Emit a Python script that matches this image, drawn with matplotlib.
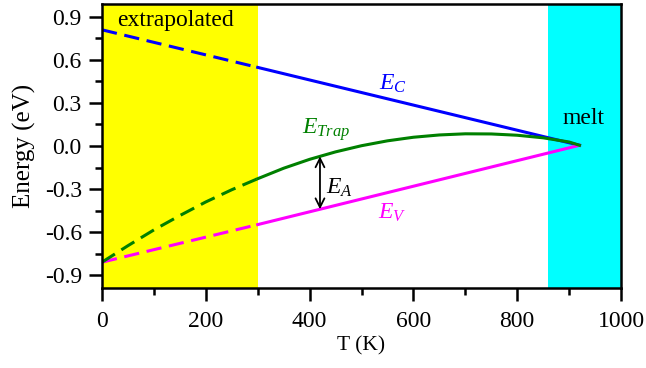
import numpy as np
import matplotlib
matplotlib.use("Agg")
import matplotlib.pyplot as plt
from matplotlib.ticker import MultipleLocator

plt.rcParams['font.family'] = ['Liberation Serif', 'DejaVu Serif']
plt.rcParams['mathtext.fontset'] = 'custom'
plt.rcParams['mathtext.it'] = 'Liberation Serif:italic'
plt.rcParams['mathtext.rm'] = 'Liberation Serif'
plt.rcParams['axes.unicode_minus'] = False

# band edges (eV) vs temperature (K)
T_c = [0, 300, 920]
E_c = [0.81, 0.548, 0.005]
T_v = [0, 300, 920]
E_v = [-0.81, -0.548, 0.005]
T_trap = [0, 50, 100, 150, 200, 250, 300, 350, 400, 450, 500, 550, 600,
          650, 700, 750, 800, 850, 900, 920]
E_trap = [-0.81, -0.695, -0.585, -0.485, -0.39, -0.305, -0.228, -0.155, -0.093,
          -0.041, 0.002, 0.036, 0.061, 0.077, 0.085, 0.084, 0.075, 0.057,
          0.028, 0.005]
T_extra = 300
T_melt = 860
T_arrow = 420

fig = plt.figure(figsize=(6.46, 3.68), dpi=100)
ax = fig.add_axes([102/646, 1-288/368, 519/646, 284/368])

ax.axvspan(0, T_extra, color='#ffff00', zorder=0, lw=0)
ax.axvspan(T_melt, 1000, color='#00ffff', zorder=0, lw=0)

Tc = np.array(T_c); Ec = np.array(E_c)
Tv = np.array(T_v); Ev = np.array(E_v)
Tt = np.array(T_trap); Et = np.array(E_trap)

def split_plot(x, y, color):
    m1 = x <= T_extra
    m2 = x >= T_extra
    ax.plot(x[m1], y[m1], color=color, lw=2.2, ls=(0, (5, 2.5)))
    ax.plot(x[m2], y[m2], color=color, lw=2.2)

split_plot(Tc, Ec, '#0000ff')
split_plot(Tv, Ev, '#ff00ff')
split_plot(Tt, Et, '#008000')

# E_A arrow between trap level and valence band
et_a = np.interp(T_arrow, Tt, Et)
ev_a = np.interp(T_arrow, Tv, Ev)
ax.annotate('', xy=(T_arrow, ev_a), xytext=(T_arrow, et_a),
            arrowprops=dict(arrowstyle='<->', color='black', lw=1.3,
                            mutation_scale=16, shrinkA=0, shrinkB=0))

ax.text(30, 0.875, 'extrapolated', fontsize=17, va='center', ha='left')
ax.text(927, 0.19, 'melt', fontsize=17, va='center', ha='center')
ax.text(534, 0.39, r'$E_C$', color='#0000ff', fontsize=17, ha='left', va='baseline')
ax.text(386, 0.084, r'$E_{Trap}$', color='#008000', fontsize=17, ha='left', va='baseline')
ax.text(432, -0.33, r'$E_A$', color='black', fontsize=17, ha='left', va='baseline')
ax.text(531, -0.51, r'$E_V$', color='#ff00ff', fontsize=17, ha='left', va='baseline')

ax.set_xlim(0, 1000)
ax.set_ylim(-0.99, 0.99)
ax.xaxis.set_major_locator(MultipleLocator(200))
ax.xaxis.set_minor_locator(MultipleLocator(100))
ax.yaxis.set_major_locator(MultipleLocator(0.3))
ax.yaxis.set_minor_locator(MultipleLocator(0.15))
ax.yaxis.set_major_formatter(plt.FuncFormatter(lambda v, p: '%.1f' % v if abs(v) > 1e-9 else '0.0'))

ax.tick_params(which='major', direction='out', length=9.5, width=1.8, labelsize=17)
ax.tick_params(axis='x', which='major', pad=7)
ax.tick_params(axis='y', which='major', pad=5)
ax.tick_params(which='minor', direction='out', length=5, width=1.8)
for s in ax.spines.values():
    s.set_linewidth(1.8)

ax.set_xlabel('T (K)', fontsize=15.5, labelpad=3)
ax.set_ylabel('Energy (eV)', fontsize=18, labelpad=6)

fig.savefig('out.png', dpi=100)
